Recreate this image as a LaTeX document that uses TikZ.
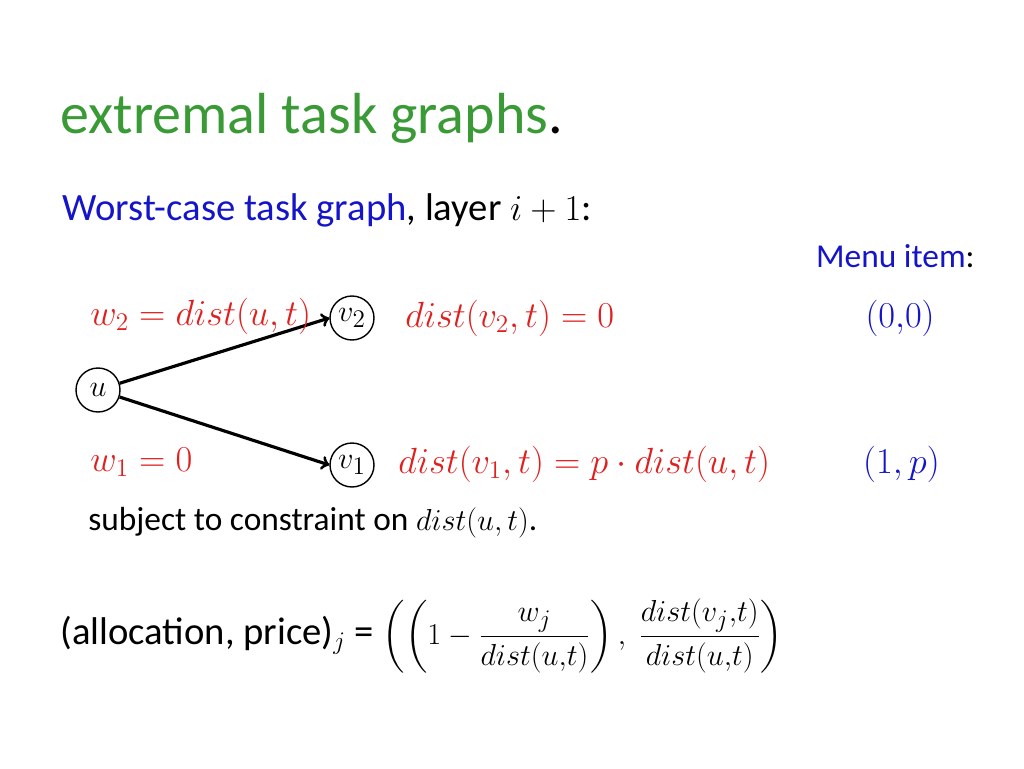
\documentclass[tikz,border=0pt]{standalone}
\usepackage{fontspec}
\setmainfont{Carlito}
\usepackage{amsmath}
\definecolor{titlegreen}{RGB}{58,154,53}
\definecolor{itemblue}{RGB}{20,20,200}
\definecolor{labelred}{RGB}{224,32,31}
\begin{document}
\begin{tikzpicture}[x=0.02cm,y=-0.02cm,
  vert/.style={draw,circle,thick,inner sep=0pt,minimum size=0.88cm,font=\fontsize{19}{22}\selectfont},
  lab/.style={anchor=west,inner sep=0pt,font=\fontsize{20}{24}\selectfont},
  arr/.style={->,line width=1.8pt,>=to}]
\useasboundingbox (0,0) rectangle (1024,768);
\node[lab,anchor=base west,font=\fontsize{33}{38}\selectfont] (title) at (60,133) {\textcolor{titlegreen}{extremal task graphs}.};
\node[lab,anchor=base west,font=\fontsize{22}{26}\selectfont] (sub) at (62,220) {\textcolor{itemblue}{Worst-case task graph}, layer $i+1$:};
\node[lab,anchor=base east,color=itemblue,font=\fontsize{19}{22}\selectfont] (menu) at (975,267) {Menu item\textcolor{black}{:}};
% nodes
\node[vert] (u) at (98,390) {$u$};
\node[vert] (v2) at (352,318) {$v_2$};
\node[vert] (v1) at (352,465) {$v_1$};
\draw[arr] (u) -- (v2.west);
\draw[arr] (u) -- (v1.west);
% labels
\node[lab,color=labelred] (w2) at (90,316) {$w_2=dist(u,t)$};
\node[lab,color=labelred] (d2) at (405,318) {$dist(v_2,t)=0$};
\node[lab,color=itemblue,anchor=east] (m2) at (935,318) {$(0{,}0)$};
\node[lab,color=labelred] (w1) at (90,462) {$w_1=0$};
\node[lab,color=labelred] (d1) at (398,464) {$dist(v_1,t)=p\cdot dist(u,t)$};
\node[lab,color=itemblue,anchor=east] (m1) at (940,464) {$(1,p)$};
\node[lab,font=\fontsize{19}{22}\selectfont] (cons) at (88,523) {subject to constraint on $dist(u,t)$.};
\node[lab,font=\fontsize{22}{26}\selectfont] (alloc) at (60,636) {(allocation, price)$_j$ = \fontsize{19}{22}\selectfont$\left(\left(1-\dfrac{w_j}{dist(u{,}t)}\right),\ \dfrac{dist(v_j{,}t)}{dist(u{,}t)}\right)$};
\end{tikzpicture}
\end{document}
